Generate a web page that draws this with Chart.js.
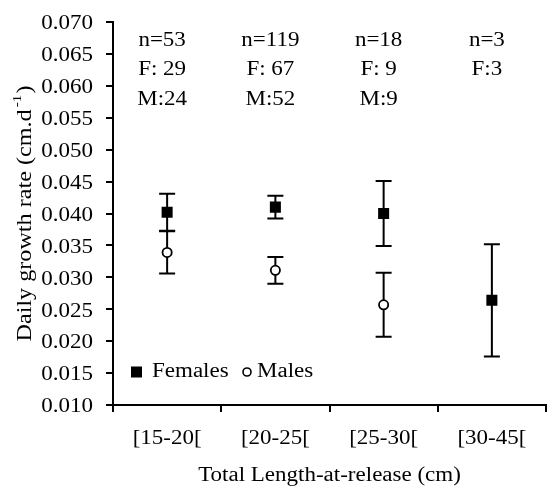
<!DOCTYPE html>
<html>
<head>
<meta charset="utf-8">
<script src="https://cdn.jsdelivr.net/npm/chart.js@4/dist/chart.umd.min.js"></script>
<style>
  html, body { margin: 0; padding: 0; background: #fff; }
  #wrap { width: 547px; height: 486px; position: relative; }
</style>
</head>
<body>
<div id="wrap"><canvas id="c"></canvas></div>
<script>
// ---- data ----
const categories = ['[15-20[', '[20-25[', '[25-30[', '[30-45['];
const femalesMean = [0.0402, 0.0410, 0.0400, 0.0264];
const femalesErr  = [0.0029, 0.0018, 0.0051, 0.0088];
const malesMean   = [0.0339, 0.0311, 0.0257, null];
const malesErr    = [0.0033, 0.0021, 0.0050, null];
const nLabels = ['n=53', 'n=119', 'n=18', 'n=3'];
const fLabels = ['F: 29', 'F: 67', 'F: 9', 'F:3'];
const mLabels = ['M:24', 'M:52', 'M:9', ''];
const yMin = 0.010, yMax = 0.070, yStep = 0.005;
const xTitle = 'Total Length-at-release (cm)';
const yTitleMain = 'Daily growth rate (cm.d';
const yTitleSup = '-1';
const yTitleEnd = ')';

const FONT = '"Liberation Serif", "Times New Roman", serif';
const SX = 1.15;   // horizontal stretch of the reference's type
const DY = 2;      // baseline nudge

function sText(ctx, t, x, y, align, size) {
  ctx.save();
  ctx.font = size + 'px ' + FONT;
  ctx.translate(x, y + DY);
  ctx.scale(SX, 1);
  ctx.textAlign = align;
  ctx.textBaseline = 'middle';
  ctx.fillStyle = '#000';
  ctx.fillText(t, 0, 0);
  ctx.restore();
}

const errorBarPlugin = {
  id: 'errorBars',
  beforeDatasetsDraw(chart) {
    const ctx = chart.ctx;
    const x = chart.scales.x, y = chart.scales.y;
    const sets = [[femalesMean, femalesErr], [malesMean, malesErr]];
    ctx.save();
    ctx.strokeStyle = '#000';
    ctx.lineWidth = 2;
    sets.forEach(([m, e]) => {
      m.forEach((v, i) => {
        if (v == null || e[i] == null) return;
        const px = x.getPixelForValue(i);
        const top = y.getPixelForValue(v + e[i]);
        const bot = y.getPixelForValue(v - e[i]);
        ctx.beginPath();
        ctx.moveTo(px, top); ctx.lineTo(px, bot);
        ctx.moveTo(px - 8, top); ctx.lineTo(px + 8, top);
        ctx.moveTo(px - 8, bot); ctx.lineTo(px + 8, bot);
        ctx.stroke();
      });
    });
    ctx.restore();
  }
};

const textPlugin = {
  id: 'texts',
  afterDraw(chart) {
    const ctx = chart.ctx;
    const x = chart.scales.x, y = chart.scales.y;
    const a = chart.chartArea;

    // y tick labels
    y.ticks.forEach(t => {
      sText(ctx, t.value.toFixed(3), a.left - 20, y.getPixelForValue(t.value), 'right', 20);
    });
    // x tick labels
    categories.forEach((c, i) => {
      sText(ctx, c, x.getPixelForValue(i), a.bottom + 32, 'center', 20);
    });
    // x title
    sText(ctx, xTitle, (a.left + a.right) / 2, a.bottom + 69, 'center', 20);

    // sample size annotations
    const rows = [[nLabels, 17], [fLabels, 46], [mLabels, 76]];
    rows.forEach(([labels, dy]) => {
      labels.forEach((t, i) => {
        if (!t) return;
        sText(ctx, t, x.getPixelForValue(i) - 5, a.top + dy, 'center', 20);
      });
    });

    // legend (inside plot)
    const ly = a.bottom - 35;
    const ds = chart.data.datasets;
    ctx.save();
    ctx.fillStyle = '#000';
    ctx.fillRect(a.left + 18, ly - 5.5 + DY, 11, 11);
    ctx.beginPath();
    ctx.arc(a.left + 134, ly + DY, 4, 0, Math.PI * 2);
    ctx.fillStyle = '#fff';
    ctx.fill();
    ctx.lineWidth = 1.6;
    ctx.strokeStyle = '#000';
    ctx.stroke();
    ctx.restore();
    sText(ctx, ds[0].label, a.left + 39, ly, 'left', 20);
    sText(ctx, ds[1].label, a.left + 144, ly, 'left', 20);

    // y-axis title with superscript
    ctx.save();
    ctx.fillStyle = '#000';
    ctx.textBaseline = 'middle';
    ctx.textAlign = 'left';
    ctx.font = '21px ' + FONT;
    const w1 = ctx.measureText(yTitleMain).width;
    const w3 = ctx.measureText(yTitleEnd).width;
    ctx.font = '13px ' + FONT;
    const w2 = ctx.measureText(yTitleSup).width + 3;
    const total = w1 + w2 + w3;
    ctx.translate(25, (a.top + a.bottom) / 2);
    ctx.rotate(-Math.PI / 2);
    ctx.scale(SX, 1);
    let sx = -total / 2;
    ctx.font = '21px ' + FONT;
    ctx.fillText(yTitleMain, sx, 0);
    sx += w1 + 2;
    ctx.font = '13px ' + FONT;
    ctx.fillText(yTitleSup, sx, -7);
    sx += w2 - 2;
    ctx.font = '21px ' + FONT;
    ctx.fillText(yTitleEnd, sx, 0);
    ctx.restore();
  }
};

new Chart(document.getElementById('c'), {
  type: 'line',
  data: {
    labels: categories,
    datasets: [
      {
        label: 'Females',
        data: femalesMean,
        showLine: false,
        pointStyle: 'rect',
        pointRadius: 7.8,
        pointHoverRadius: 7.8,
        pointBackgroundColor: '#000',
        pointBorderColor: '#000',
        pointBorderWidth: 0
      },
      {
        label: 'Males',
        data: malesMean,
        showLine: false,
        pointStyle: 'circle',
        pointRadius: 4.6,
        pointHoverRadius: 4.6,
        pointBackgroundColor: '#fff',
        pointBorderColor: '#000',
        pointBorderWidth: 1.8
      }
    ]
  },
  options: {
    responsive: true,
    maintainAspectRatio: false,
    animation: false,
    events: [],
    layout: { autoPadding: false, padding: { top: 22, right: 1, left: 0, bottom: 0 } },
    plugins: {
      legend: { display: false },
      tooltip: { enabled: false }
    },
    scales: {
      x: {
        type: 'category',
        offset: true,
        afterFit(scale) { scale.height = 81; },
        grid: {
          offset: true,
          drawOnChartArea: false,
          drawTicks: true,
          tickLength: 7,
          lineWidth: 2,
          color: '#000'
        },
        border: { display: true, width: 2, color: '#000' },
        ticks: { display: false }
      },
      y: {
        min: yMin,
        max: yMax,
        afterFit(scale) { scale.width = 113; },
        grid: {
          drawOnChartArea: false,
          drawTicks: true,
          tickLength: 7,
          lineWidth: 2,
          color: '#000'
        },
        border: { display: true, width: 2, color: '#000' },
        ticks: { display: false, stepSize: yStep }
      }
    }
  },
  plugins: [errorBarPlugin, textPlugin]
});
</script>
</body>
</html>
